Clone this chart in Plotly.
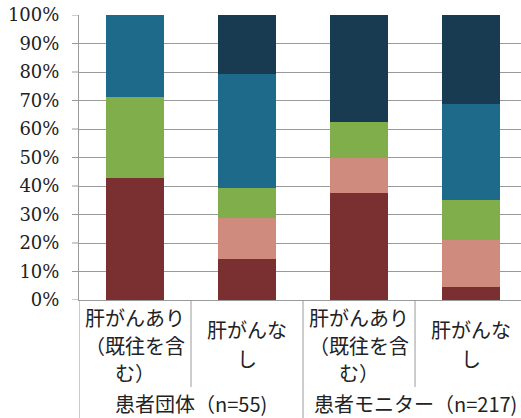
import plotly.graph_objects as go

# Share of each response category (percent), stacked bottom to top
category_lines = [
    ["肝がんあり", "（既往を含", "む）"],
    ["肝がんな", "し"],
    ["肝がんあり", "（既往を含", "む）"],
    ["肝がんな", "し"],
]
groups = ["患者団体（n=55)", "患者モニター（n=217)"]
x_pos = [0, 1, 2, 3]

red_vals = [42.7, 14.3, 37.4, 4.7]
pink_vals = [0.0, 14.4, 12.5, 16.3]
green_vals = [28.6, 10.5, 12.4, 14.1]
blue_vals = [28.7, 40.1, 0.0, 33.6]
navy_vals = [0.0, 20.7, 37.7, 31.3]

series = [
    ("区分1", red_vals, "#7a2f30"),
    ("区分2", pink_vals, "#cf8b7d"),
    ("区分3", green_vals, "#80ae4b"),
    ("区分4", blue_vals, "#1e6a8b"),
    ("区分5", navy_vals, "#183b51"),
]

fig = go.Figure()
for name, vals, color in series:
    fig.add_trace(go.Bar(
        x=x_pos, y=vals, name=name, width=0.52,
        marker=dict(color=color, line=dict(width=0)),
        showlegend=False,
    ))

jp_font = dict(family="Noto Sans CJK JP", size=20, color="#222222")
grid_col = "#9a9a9a"

fig.update_layout(
    barmode="stack",
    width=521, height=418,
    margin=dict(l=79, r=0, t=15, b=118),
    paper_bgcolor="white", plot_bgcolor="white",
    font=dict(family="DejaVu Serif", size=18, color="#222222"),
    xaxis=dict(
        range=[-0.5, 3.446],
        tickvals=x_pos, showticklabels=False, ticks="", showgrid=False,
        showline=True, linecolor=grid_col, linewidth=1,
        zeroline=False, fixedrange=True,
    ),
    yaxis=dict(
        range=[0, 100], tickvals=[0, 10, 20, 30, 40, 50, 60, 70, 80, 90, 100],
        ticktext=["0%", "10%", "20%", "30%", "40%", "50%", "60%", "70%", "80%", "90%", "100%"],
        tickfont=dict(family="DejaVu Serif", size=18, color="#222222"),
        automargin=False,
        showgrid=True, gridcolor=grid_col, gridwidth=1,
        ticks="outside", ticklen=15, tickcolor="rgba(0,0,0,0)",
        showline=True, linecolor=grid_col, linewidth=1,
        zeroline=False, fixedrange=True,
    ),
)

# Short outside tick marks on the value axis
for v in range(0, 101, 10):
    fig.add_shape(type="line", xref="paper", yref="y", x0=-0.016, x1=0,
                  y0=v, y1=v, line=dict(color=grid_col, width=1))

# Category labels, one line at a time for wider line spacing
line_y = [-0.063, -0.161, -0.256]
for xc, lines in zip(x_pos, category_lines):
    ys = line_y if len(lines) == 3 else [-0.105, -0.205]
    for text, yy in zip(lines, ys):
        fig.add_annotation(x=xc, y=yy, xref="x", yref="paper", text=text,
                           showarrow=False, font=jp_font, yanchor="middle")

# Group labels under the category labels
for g, xc in zip(groups, [0.5, 2.5]):
    fig.add_annotation(x=xc, y=-0.362, xref="x", yref="paper", text=g,
                       showarrow=False, font=jp_font, yanchor="middle")

# Divider lines between categories and groups
for xv, y_bottom in [(-0.5, -0.42), (0.5, -0.305), (1.5, -0.42), (2.5, -0.305)]:
    fig.add_shape(type="line", xref="x", yref="paper", x0=xv, x1=xv,
                  y0=0, y1=y_bottom, line=dict(color=grid_col, width=1))

fig.write_html("out.html")
